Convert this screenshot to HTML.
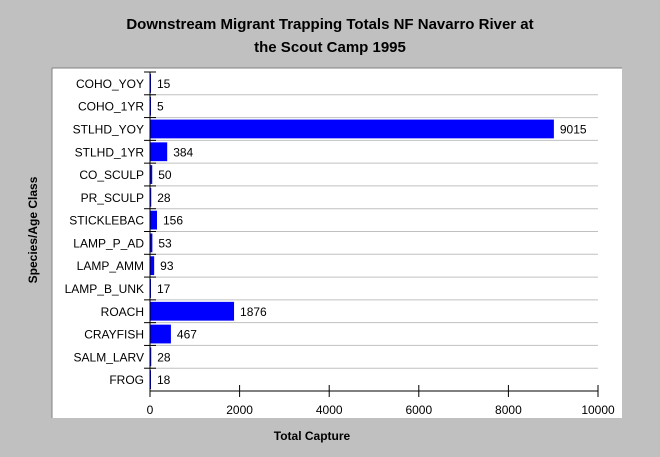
<!DOCTYPE html>
<html><head><meta charset="utf-8"><style>
body{margin:0;background:#c0c0c0;}
svg{display:block;font-family:"Liberation Sans",Arial,sans-serif;}
</style></head><body>
<svg width="660" height="457" id="chart">
<rect width="660" height="457" fill="#c0c0c0"/>
<text x="330" y="29" text-anchor="middle" font-size="15" font-weight="bold">Downstream Migrant Trapping Totals NF Navarro River at</text>
<text x="330" y="52" text-anchor="middle" font-size="15" font-weight="bold">the Scout Camp 1995</text>
<rect x="52" y="68" width="570" height="350" fill="#fff"/>
<line x1="52" y1="68" x2="622" y2="68" stroke="#808080" stroke-width="1"/>
<line x1="52" y1="68" x2="52" y2="418" stroke="#808080" stroke-width="1"/>
<text transform="translate(37,230) rotate(-90)" text-anchor="middle" font-size="12" font-weight="bold">Species/Age Class</text>
<text x="312" y="440" text-anchor="middle" font-size="12" font-weight="bold">Total Capture</text>
<g id="plot"></g>
</svg>
<script>
const categories=["COHO_YOY","COHO_1YR","STLHD_YOY","STLHD_1YR","CO_SCULP","PR_SCULP","STICKLEBAC","LAMP_P_AD","LAMP_AMM","LAMP_B_UNK","ROACH","CRAYFISH","SALM_LARV","FROG"];
const values=[15,5,9015,384,50,28,156,53,93,17,1876,467,28,18];
const xTicks=[0,2000,4000,6000,8000,10000];
const NS="http://www.w3.org/2000/svg";
const g=document.getElementById('plot');
const x0=150,x1=598,y0=72,y1=391,xMax=10000;
const xs=v=>x0+(v/xMax)*(x1-x0);
const rowH=(y1-y0)/categories.length;
function mk(t,a){const e=document.createElementNS(NS,t);for(const k in a)e.setAttribute(k,a[k]);g.appendChild(e);return e;}
categories.forEach((c,i)=>{
  const top=y0+i*rowH;
  if(i>0){
    const gl=mk('line',{x1:x0,x2:x1,y1:top,y2:top,stroke:'#c0c0c0'});
    
    
  }
  const tk=mk('line',{x1:x0-6,x2:x0+6,y1:top,y2:top,stroke:'#000'});
  
  
  const w=xs(values[i])-x0;
  const b=mk('rect',{x:x0,y:top+2,width:Math.max(w,1),height:rowH-4,fill:'#0000ff'});
  
  
  const l=mk('text',{x:x0-6,y:top+rowH/2+4.5,'text-anchor':'end','font-size':12});
  l.textContent=c;
  
  
  const v=mk('text',{x:Math.max(xs(values[i]),x0+1)+6,y:top+rowH/2+4.5,'font-size':12});
  v.textContent=values[i];
  
  
});
const ax=mk('line',{x1:x0,x2:x0,y1:y0,y2:y1,stroke:'#000'});


const bx=mk('line',{x1:x0,x2:x1,y1:y1,y2:y1,stroke:'#000'});


xTicks.forEach(t=>{
  const x=xs(t);
  const tk=mk('line',{x1:x,x2:x,y1:y1-6,y2:y1+6,stroke:'#000'});
  
  
  const l=mk('text',{x:x,y:y1+23,'text-anchor':'middle','font-size':12});
  l.textContent=t;
  
  
});
</script>
</body></html>
